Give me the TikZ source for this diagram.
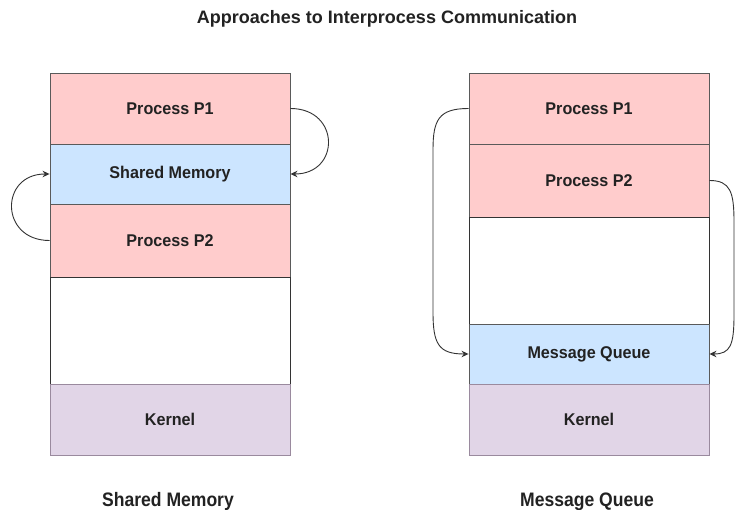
\documentclass[tikz,border=0pt]{standalone}
\usepackage{fontspec}
\setmainfont{Liberation Sans}
\newfontfamily\boxfont[FakeStretch=0.95]{Liberation Sans}
\newfontfamily\capfont[FakeStretch=0.9]{Liberation Sans}
\usetikzlibrary{arrows.meta,calc}
\definecolor{pinkfill}{HTML}{FFCCCC}
\definecolor{bluefill}{HTML}{CCE5FF}
\definecolor{purplefill}{HTML}{E1D5E7}
\definecolor{boxline}{HTML}{5A5A5A}
\definecolor{kline}{HTML}{9A8A9E}
\definecolor{txt}{HTML}{222222}
\definecolor{arr}{HTML}{333333}
\tikzset{
  layer/.style={draw=boxline, line width=0.9pt, minimum width=240pt, inner sep=0pt,
    text=txt, font=\boxfont\bfseries\fontsize{17}{20}\selectfont},
  pinkbox/.style={layer, fill=pinkfill},
  bluebox/.style={layer, fill=bluefill},
  whitebox/.style={layer, fill=white, draw=black!80},
  kernelbox/.style={layer, fill=purplefill, draw=kline},
  caption/.style={text=txt, font=\capfont\bfseries\fontsize{19.5}{22}\selectfont},
  titletext/.style={text=txt, font=\bfseries\fontsize{18}{21}\selectfont},
  link/.style={draw=arr, line width=0.9pt, -{Stealth[length=7pt,width=6.5pt]}}
}
\begin{document}
\begin{tikzpicture}[x=1pt,y=-1pt]
\useasboundingbox (0,0) rectangle (736,510);
\fill[white] (0,0) rectangle (736,510);

\node[titletext] (title) at (387,19) {Approaches to Interprocess Communication};

% left column
\node[pinkbox, minimum height=71pt] (lp1) at (170,108.5) {Process P1};
\node[bluebox, minimum height=60pt] (lsm) at (170,174) {Shared Memory};
\node[pinkbox, minimum height=73pt] (lp2) at (170,240.5) {Process P2};
\node[whitebox, minimum height=107pt] (lw) at (170,330.5) {};
\node[kernelbox, minimum height=71pt] (lk) at (170,419.5) {Kernel};

% right column
\node[pinkbox, minimum height=71pt] (rp1) at (589,108.5) {Process P1};
\node[pinkbox, minimum height=73pt] (rp2) at (589,180.5) {Process P2};
\node[whitebox, minimum height=107pt] (rw) at (589,270.5) {};
\node[bluebox, minimum height=60pt] (rmq) at (589,354) {Message Queue};
\node[kernelbox, minimum height=71pt] (rk) at (589,419.5) {Kernel};

% captions
\node[caption, anchor=base] (capl) at (168,506) {Shared Memory};
\node[caption, anchor=base] (capr) at (587,506) {Message Queue};

% arrows left
\draw[link] (lp1.east) .. controls +(50,0) and +(50,0) .. (lsm.east);
\draw[link] (lp2.west) .. controls +(-50,0) and +(-50,0) .. (lsm.west);

% arrows right
\coordinate (a1) at (433,150);
\coordinate (a2) at (433,312);
\draw[link] (rp1.west) .. controls +(-30,0) and +(0,-30) .. (a1) -- (a2) .. controls +(0,32) and +(-30,0) .. (rmq.west);
\coordinate (b1) at (734,222);
\coordinate (b2) at (734,315);
\draw[link] (rp2.east) .. controls +(21,0) and +(0,-30) .. (b1) -- (b2) .. controls +(0,30) and +(21,0) .. (rmq.east);
\end{tikzpicture}
\end{document}
